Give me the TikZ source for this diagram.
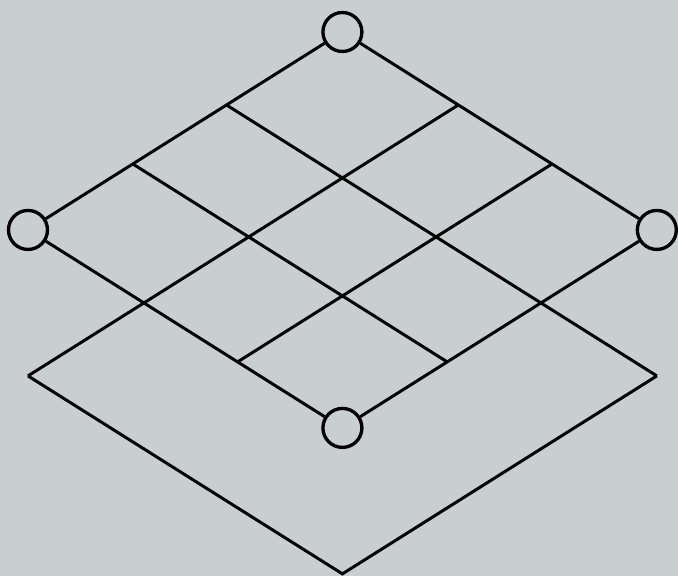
\documentclass[tikz,border=0pt]{standalone}
\usepackage{tikz}
\usetikzlibrary{calc}
\definecolor{PlaneBg} {RGB}{201,206,208}
\definecolor{PlaneLine}{RGB}{0,0,0}
\tikzset{
  nd_vtx/.style={
    circle, draw=PlaneLine, fill=PlaneBg, line width=1.9pt,
    minimum size=0.78cm, inner sep=0pt},
  ln_grid/.style={draw=PlaneLine, line width=1.7pt},
}

\begin{document}
\begin{tikzpicture}[x=1cm,y=1cm]

%% half width, half height, drop of the lower plane
\def\W{6.29} \def\H{3.96} \def\D{2.92}
\pgfmathsetmacro\s{\D/(2*\H)}

%% background
\fill[PlaneBg] (-6.85,4.6) rectangle (6.71,-6.92);

%% ── corners ─────────────────────────────────────────────
\node[nd_vtx] at (0,\H)   (top){};
\node[nd_vtx] at (-\W,0)  (lft){};
\node[nd_vtx] at (\W,0)   (rgt){};
\node[nd_vtx] at (0,-\H)  (bot){};

\coordinate (lft2) at (-\W,-\D);
\coordinate (rgt2) at (\W,-\D);
\coordinate (bot2) at (0,-\H-\D);

%% ── lower plane ─────────────────────────────────────────
\draw[ln_grid] (lft2)--(bot2)--(rgt2);
\draw[ln_grid] (lft2)--($(top)!\s!(rgt)$);
\draw[ln_grid] ($(top)!\s!(lft)$)--(rgt2);

%% ── upper plane grid ────────────────────────────────────
\draw[ln_grid] ($(lft)!1/3!(top)$)--($(bot)!1/3!(rgt)$);
\draw[ln_grid] ($(lft)!2/3!(bot)$)--($(top)!2/3!(rgt)$);

\draw[ln_grid] (lft)--(top);
\draw[ln_grid] (top)--(rgt);
\draw[ln_grid] (rgt)--(bot);
\draw[ln_grid] (bot)--(lft);

\end{tikzpicture}
\end{document}
